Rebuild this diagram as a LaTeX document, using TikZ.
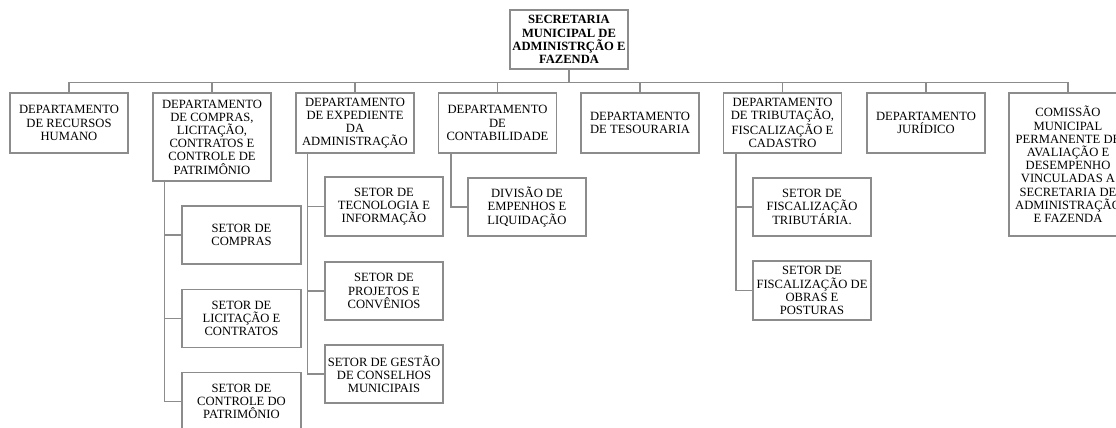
\documentclass[tikz,border=0pt]{standalone}
\usepackage{fontspec}
\setmainfont{Liberation Serif}
\definecolor{ln}{RGB}{140,140,140}
\begin{document}
\begin{tikzpicture}[x=1pt,y=-1pt,
  box/.style={draw=ln, line width=1.2pt, fill=white, align=center, inner sep=1pt,
    minimum width=118pt, minimum height=59pt, font=\fontsize{12.6}{13.2}\selectfont},
  conn/.style={draw=ln, line width=1.2pt}]
\clip (0,0) rectangle (1116,428);
\useasboundingbox (0,0) rectangle (1116,428);
% top
\node[box, font=\bfseries\fontsize{12.6}{13.2}\selectfont] (sec) at (569,39.5) {SECRETARIA\\MUNICIPAL DE\\ADMINISTRÇÃO E\\FAZENDA};
% departments
\node[box, minimum height=60pt] (rh) at (69,123) {DEPARTAMENTO\\DE RECURSOS\\HUMANO};
\node[box, minimum height=88pt] (comp) at (212,137) {DEPARTAMENTO\\DE COMPRAS,\\LICITAÇÃO,\\CONTRATOS E\\CONTROLE DE\\PATRIMÔNIO};
\node[box, minimum height=60pt] (exp) at (355,123) {DEPARTAMENTO\\DE EXPEDIENTE\\DA\\ADMINISTRAÇÃO};
\node[box, minimum height=60pt] (cont) at (497.5,123) {DEPARTAMENTO\\DE\\CONTABILIDADE};
\node[box, minimum height=60pt] (tes) at (640,123) {DEPARTAMENTO\\DE TESOURARIA};
\node[box, minimum height=60pt] (trib) at (782.5,123) {DEPARTAMENTO\\DE TRIBUTAÇÃO,\\FISCALIZAÇÃO E\\CADASTRO};
\node[box, minimum height=60pt] (jur) at (926,123) {DEPARTAMENTO\\JURÍDICO};
\node[box, minimum height=143pt] (com) at (1068,164.5) {COMISSÃO\\MUNICIPAL\\PERMANENTE DE\\AVALIAÇÃO E\\DESEMPENHO\\VINCULADAS A\\SECRETARIA DE\\ADMINISTRAÇÃO\\E FAZENDA};
% sectors
\node[box, minimum width=119pt, minimum height=58pt] (sc) at (241.5,235) {SETOR DE\\COMPRAS};
\node[box, minimum width=119pt, minimum height=58pt] (sl) at (241.5,318.5) {SETOR DE\\LICITAÇÃO E\\CONTRATOS};
\node[box, minimum width=119pt, minimum height=58pt] (sp) at (241.5,401.5) {SETOR DE\\CONTROLE DO\\PATRIMÔNIO};
\node[box, minimum height=59pt] (st) at (384,206.5) {SETOR DE\\TECNOLOGIA E\\INFORMAÇÃO};
\node[box, minimum height=58pt] (spj) at (384,291) {SETOR DE\\PROJETOS E\\CONVÊNIOS};
\node[box, minimum height=58pt] (sg) at (384,374) {SETOR DE GESTÃO\\DE CONSELHOS\\MUNICIPAIS};
\node[box, minimum height=58pt] (dv) at (527,207) {DIVISÃO DE\\EMPENHOS E\\LIQUIDAÇÃO};
\node[box, minimum height=58pt] (sft) at (812,207) {SETOR DE\\FISCALIZAÇÃO\\TRIBUTÁRIA.};
\node[box, minimum height=59pt] (sfo) at (812,290.5) {SETOR DE\\FISCALIZAÇÃO DE\\OBRAS E\\POSTURAS};
% bus
\foreach \d in {rh,comp,exp,cont,tes,trib,jur,com}
  \draw[conn] (sec.south) -- ++(0,13) -| (\d.north);
% sub connectors
\foreach \s in {sc,sl,sp}
  \draw[conn] ([xshift=12pt]comp.south west) |- (\s.west);
\foreach \s in {st,spj,sg}
  \draw[conn] ([xshift=12pt]exp.south west) |- (\s.west);
\draw[conn] ([xshift=13pt]cont.south west) |- (dv.west);
\foreach \s in {sft,sfo}
  \draw[conn] ([xshift=13pt]trib.south west) |- (\s.west);
\end{tikzpicture}
\end{document}
